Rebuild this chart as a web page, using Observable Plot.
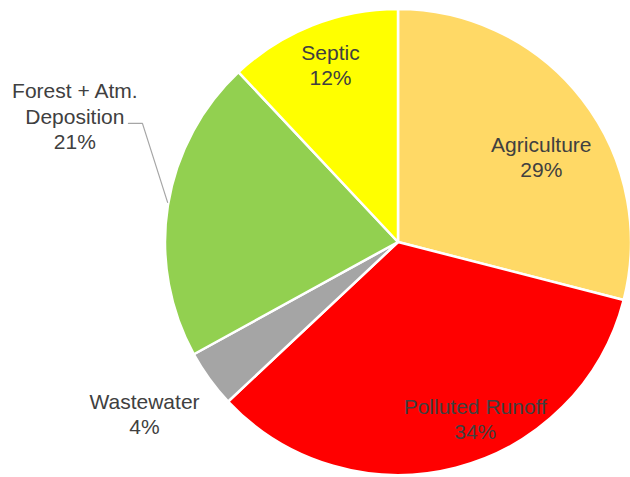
<!DOCTYPE html>
<html><head><meta charset="utf-8">
<script src="https://cdn.jsdelivr.net/npm/d3@7"></script>
<script src="https://cdn.jsdelivr.net/npm/@observablehq/plot@0.6"></script>
<style>body{margin:0;background:#fff}</style>
</head><body><div id="chart"></div>
<script>
// Data
const categories = ["Agriculture", "Polluted Runoff", "Wastewater", "Forest + Atm. Deposition", "Septic"];
const values = [29, 34, 4, 21, 12];
const labelNames = ["Agriculture", "Polluted Runoff", "Wastewater", "Forest + Atm.\nDeposition", "Septic"];
const colors = ["#FFD966", "#FF0000", "#A5A5A5", "#92D050", "#FFFF00"];

// Layout (label placement in polar units of the pie radius)
const labelAngle = [59.4, 156.7, 235.8, 291.1, 338.9];
const labelRadius = [0.712, 0.833, 1.318, 1.489, 0.811];
const leaderLine = [[-1.159, 0.511], [-1.099, 0.511], [-0.991, 0.172]];

const W = 630, H = 477, CX = 398, CY = 242, R = 233;

const total = d3.sum(values);
const pieData = categories.map((c, i) => ({category: c, value: values[i], color: colors[i]}));
const arcs = d3.pie().sort(null).value(d => d.value)(pieData);
const labels = pieData.map((d, i) => {
  const a = labelAngle[i] * Math.PI / 180;
  return {
    text: `${labelNames[i]}\n${Math.round(d.value / total * 100)}%`,
    x: labelRadius[i] * Math.sin(a),
    y: labelRadius[i] * Math.cos(a)
  };
});

function pie(index, scales) {
  const cx = scales.x(0), cy = scales.y(0), r = scales.x(1) - scales.x(0);
  const g = d3.create("svg:g").attr("transform", `translate(${cx},${cy})`);
  const arc = d3.arc().innerRadius(0).outerRadius(r);
  g.selectAll("path").data(arcs).join("path")
    .attr("d", arc)
    .attr("fill", d => d.data.color)
    .attr("stroke", "#fff")
    .attr("stroke-width", 2.5)
    .attr("stroke-linejoin", "round");
  return g.node();
}

const chart = Plot.plot({
  width: W, height: H, margin: 0,
  x: {domain: [-CX / R, (W - CX) / R], range: [0, W], axis: null},
  y: {domain: [CY / R, -(H - CY) / R], range: [0, H], axis: null},
  style: {fontFamily: "'Liberation Sans', Arial, sans-serif", fontSize: "21px", background: "#fff"},
  marks: [
    pie,
    Plot.line(leaderLine, {x: d => d[0], y: d => d[1], stroke: "#A6A6A6", strokeWidth: 1.2}),
    Plot.text(labels, {x: "x", y: "y", text: "text", fill: "#404040", fontSize: 21, lineHeight: 1.2, dy: -2})
  ]
});
document.getElementById("chart").append(chart);
</script>
</body></html>
